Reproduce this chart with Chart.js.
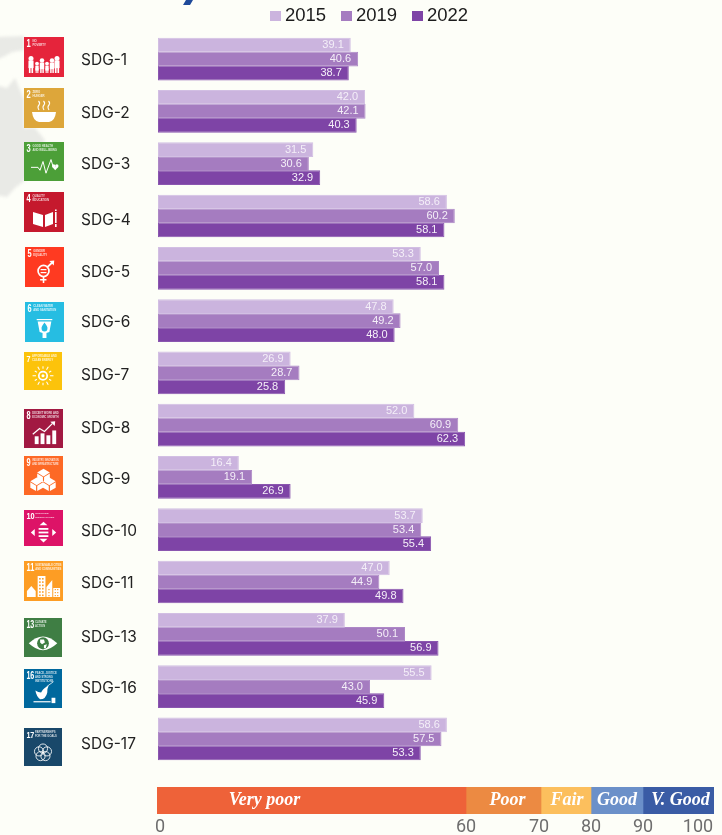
<!DOCTYPE html>
<html><head><meta charset="utf-8">
<style>
html,body{margin:0;padding:0;background:#fdfef8;overflow:hidden;width:722px;height:835px}
canvas{position:absolute;left:0;display:block}
#main{top:0}#band{top:780px}
</style>
<script src="https://cdn.jsdelivr.net/npm/chart.js@4/dist/chart.umd.min.js"></script>
</head><body>
<canvas id="main" width="722" height="780"></canvas>
<canvas id="band" width="722" height="55"></canvas>
<script>
const categories=["SDG-1","SDG-2","SDG-3","SDG-4","SDG-5","SDG-6","SDG-7","SDG-8","SDG-9","SDG-10","SDG-11","SDG-13","SDG-16","SDG-17"];
const goalNumbers=[1,2,3,4,5,6,7,8,9,10,11,13,16,17];
const values2015=[39.1,42.0,31.5,58.6,53.3,47.8,26.9,52.0,16.4,53.7,47.0,37.9,55.5,58.6];
const values2019=[40.6,42.1,30.6,60.2,57.0,49.2,28.7,60.9,19.1,53.4,44.9,50.1,43.0,57.5];
const values2022=[38.7,40.3,32.9,58.1,58.1,48.0,25.8,62.3,26.9,55.4,49.8,56.9,45.9,53.3];
const years=["2015","2019","2022"];
const bandNames=["Very poor","Poor","Fair","Good","V. Good"];
const bandWidths=[309,75,50,52,71];
const bandTickLabels=["0","60","70","80","90","100"];

const yearColors=["#cbb4de","#a57cc0","#7e44a6"];
const yearBorders=["#d2bfe3","#ad88c6","#8a56af"];
const valueColors=["rgba(255,255,255,.78)","rgba(255,255,255,.88)","rgba(255,255,255,.92)"];
const bandColors=["#ee6239","#ec8a42","#fcbf5d","#6b90c9","#3a5ca5"];
const bandLabelShift=[-47,4,1,0,2];
const bandTickAt=[3,309,382,434,486,541];
const iconColors=["#e5243b","#dda63a","#4c9f38","#c5192d","#ff3a21","#26bde2","#fcc30b","#a21942","#fd6925","#dd1367","#fd9d24","#3f7e44","#00689d","#19486a"];
const iconBoxes=[[24,37,40,40],[24,88,40,40],[24,142,40,39],[24,192,40,40],[25,247,39,40],[25,302,39,40],[24,352,38,38],[24,409,39,39],[24,456,39,39],[24,510,39,36],[24,561,39,40],[24,618,38,39],[24,669,38,39],[24,728,38,38]];
const labelCentres=[60,113,164,220,272,322,375,428,479,531,583,637,688,744];
const iconCaptions=[["NO","POVERTY"],["ZERO","HUNGER"],["GOOD HEALTH","AND WELL-BEING"],["QUALITY","EDUCATION"],["GENDER","EQUALITY"],["CLEAN WATER","AND SANITATION"],["AFFORDABLE AND","CLEAN ENERGY"],["DECENT WORK AND","ECONOMIC GROWTH"],["INDUSTRY, INNOVATION","AND INFRASTRUCTURE"],["REDUCED","INEQUALITIES"],["SUSTAINABLE CITIES","AND COMMUNITIES"],["CLIMATE","ACTION"],["PEACE, JUSTICE","AND STRONG","INSTITUTIONS"],["PARTNERSHIPS","FOR THE GOALS"]];

function poly(c,p,fill){c.beginPath();p.forEach((q,i)=>i?c.lineTo(q[0],q[1]):c.moveTo(q[0],q[1]));c.closePath();if(fill!==false)c.fill();}
function circ(c,x,y,r,stroke){c.beginPath();c.arc(x,y,r,0,Math.PI*2);stroke?c.stroke():c.fill();}
function person(c,x,s){circ(c,x,36-s+.6,s*.12+.7);c.fillRect(x-s*.17,36-s+2.6,s*.34,s*.5);c.fillRect(x-s*.14,36-s*.5,s*.11,s*.5);c.fillRect(x+s*.03,36-s*.5,s*.11,s*.5);}
const glyphs={
1(c){[[7,15],[13,10],[18,13],[23,10],[28,13],[33,15]].forEach(p=>person(c,p[0],p[1]));},
2(c){c.beginPath();c.moveTo(8,24);c.lineTo(32,24);c.quadraticCurveTo(31,33,25,34);c.lineTo(15,34);c.quadraticCurveTo(9,33,8,24);c.fill();
 c.lineWidth=1.1;[15,20,25].forEach(x=>{c.beginPath();c.moveTo(x,22);c.quadraticCurveTo(x-2,19,x,17);c.quadraticCurveTo(x+1.5,15,x-.5,13);c.stroke();});},
3(c){c.lineWidth=1;c.beginPath();[[7,26],[14,26],[16,29],[19,20],[22,32],[27,18],[29,25]].forEach((p,i)=>i?c.lineTo(p[0],p[1]):c.moveTo(p[0],p[1]));c.stroke();
 circ(c,29.7,24.5,1.7);circ(c,32.8,24.5,1.7);poly(c,[[28.1,25.3],[34.4,25.3],[31.2,29]]);},
4(c){poly(c,[[9,20],[19,23],[19,35],[9,32]]);poly(c,[[21,23],[29,20],[29,32],[21,35]]);c.fillRect(31,20,1.6,11);c.fillRect(31,17.5,1.6,1.5);c.fillRect(31,32,1.6,3);},
5(c){c.lineWidth=1.7;circ(c,19,24,5.6,true);c.fillRect(16,22,6,1.2);c.fillRect(16,25,6,1.2);c.fillRect(18.2,29,1.6,7);c.fillRect(15.5,32,6.5,1.5);
 c.beginPath();c.moveTo(23,20);c.lineTo(28,15.5);c.stroke();poly(c,[[25,14],[30,13.5],[29.5,18.5]]);},
6(c){c.fillRect(12,17,16,1.2);poly(c,[[13,19.5],[27,19.5],[25,30],[22,31],[22,36],[18,36],[18,31],[15,30]]);c.fillStyle=iconFillNow;c.beginPath();c.moveTo(20,20.5);c.quadraticCurveTo(16.5,25,17,26.5);c.arc(20,26.5,3,Math.PI,0,true);c.quadraticCurveTo(23.5,25,20,20.5);c.fill();c.fillStyle="#fff";},
7(c){c.lineWidth=1.8;circ(c,20,25,4.4,true);circ(c,20,25,1.6);c.lineWidth=1.1;for(let i=0;i<12;i++){const a=i*Math.PI/6,r1=7.4,r2=i%2?10:11;c.beginPath();c.moveTo(20+r1*Math.cos(a),25+r1*Math.sin(a));c.lineTo(20+r2*Math.cos(a),25+r2*Math.sin(a));c.stroke();}},
8(c){[[11,28,4,8],[17,25,4,11],[23,27,4,9],[29,22,4,14]].forEach(r=>c.fillRect(r[0],r[1],r[2],r[3]));c.lineWidth=1.3;c.beginPath();[[9,26],[16,20],[21,23],[29,15]].forEach((p,i)=>i?c.lineTo(p[0],p[1]):c.moveTo(p[0],p[1]));c.stroke();poly(c,[[27,13],[32,12.5],[31.5,17.5]]);},
9(c){[[20,17],[13,26],[26,26]].forEach(p=>{const x=p[0],y=p[1],s=6.5;c.fillStyle="#fff";poly(c,[[x,y-4],[x+s,y],[x,y+4],[x-s,y]]);poly(c,[[x-s,y+1],[x-.6,y+4.6],[x-.6,y+10],[x-s,y+6.5]]);poly(c,[[x+s,y+1],[x+.6,y+4.6],[x+.6,y+10],[x+s,y+6.5]]);});},
10(c){[[15,20,10],[15,24,10],[15,28,10]].forEach(r=>c.fillRect(r[0],r[1],r[2],2));poly(c,[[20,13],[16,17],[24,17]]);poly(c,[[20,36],[16,32],[24,32]]);poly(c,[[7,25],[11,21],[11,29]]);poly(c,[[33,25],[29,21],[29,29]]);},
11(c){c.fillRect(14,15,8,21);poly(c,[[23,36],[23,26],[29,19],[29,36]]);c.fillRect(30,27,7,9);poly(c,[[3,30],[7.5,25],[12,30],[12,36],[3,36]]);c.fillStyle=iconFillNow;for(let y=17;y<34;y+=3.3)[15.5,18.5].forEach(x=>c.fillRect(x,y,1.6,1.6));for(let y=28;y<35;y+=3)[25,31.5,34].forEach(x=>c.fillRect(x,y,1.2,1.2));c.fillStyle="#fff";},
13(c){c.beginPath();c.moveTo(5,26);c.quadraticCurveTo(20,12,35,26);c.quadraticCurveTo(20,40,5,26);c.fill();c.fillStyle=iconFillNow;circ(c,20,26,6.2);c.fillStyle="#fff";poly(c,[[17,22],[21,22],[22,25],[19,27],[17,25]]);poly(c,[[21,28],[24,27],[23,31],[21,31]]);},
16(c){c.beginPath();c.moveTo(12,22);c.quadraticCurveTo(15,24,18,24);c.quadraticCurveTo(21,19,26,17);c.quadraticCurveTo(24,21,24.5,24);c.quadraticCurveTo(23,31,17,31);c.quadraticCurveTo(13,28,12,22);c.fill();
 c.lineWidth=.8;c.beginPath();c.moveTo(24,18);c.lineTo(31,13);c.stroke();c.fillRect(10,33,18,1.2);c.fillRect(29,29.5,4,5.5);},
17(c){c.lineWidth=.9;for(let i=0;i<5;i++){const a=-Math.PI/2+i*2*Math.PI/5;circ(c,20+4.4*Math.cos(a),26+4.4*Math.sin(a),4.8,true);}}
};
let iconFillNow="#000";
function drawIcon(c,i){
 const b=iconBoxes[i],n=goalNumbers[i],k=b[2]/40;
 c.save();c.fillStyle=iconColors[i];c.fillRect(b[0],b[1],b[2],b[3]);
 c.filter="blur(0.4px)";
 c.translate(b[0],b[1]);c.scale(k,b[3]/40);
 iconFillNow=iconColors[i];c.fillStyle="#fff";c.strokeStyle="#fff";c.textBaseline="top";c.textAlign="left";
 c.font='bold 10.5px "Liberation Sans"';
 c.save();c.translate(2.5,2.2);c.scale(.72,1);c.fillText(String(n),0,0);c.restore();
 c.font='bold 2.8px "Liberation Sans"';
 c.globalAlpha=.8;
 const tx=n>=10?11.5:8.5;iconCaptions[i].forEach((t,j)=>c.fillText(t,tx,2.8+j*4.3,27));
 c.globalAlpha=1;
 glyphs[n](c);c.restore();
}
const decorPlugin={id:"decor",beforeDatasetsDraw(chart){
 const c=chart.ctx;c.save();
 c.filter="blur(1.5px)";c.fillStyle="#e9eae6";
 poly(c,[[-4,37],[24,36],[24,50],[12,52],[5,56],[-4,60]]);
 poly(c,[[-4,85],[7,88],[15,78],[20,90],[24,100],[24,128],[35,128],[45,140],[38,150],[24,181],[15,188],[7,197],[-4,195]]);
 c.filter="none";
 c.fillStyle="#1f4a9a";poly(c,[[186,0],[193,0],[190,5],[183,5]]);
 categories.forEach((_,i)=>drawIcon(c,i));
 c.fillStyle="#222";c.font='15.5px Inter';c.textAlign="left";c.textBaseline="middle";
 categories.forEach((t,i)=>c.fillText(t,81,labelCentres[i]));
 const lx=[270,341,412];
 years.forEach((y,i)=>{c.fillStyle=yearColors[i];c.fillRect(lx[i],11,11,10);
  c.fillStyle="#1c1c1c";c.font='18.5px "Liberation Sans"';c.textBaseline="middle";c.fillText(y,lx[i]+15,16);});
 c.restore();
},afterDatasetsDraw(chart){
 const c=chart.ctx;c.save();c.font='11px "Liberation Sans"';c.textAlign="right";c.textBaseline="middle";
 chart.data.datasets.forEach((d,di)=>{c.fillStyle=valueColors[di];
  chart.getDatasetMeta(di).data.forEach((bar,i)=>c.fillText(d.data[i].toFixed(1),bar.x-7,bar.y));});
 c.restore();
}};
new Chart(document.getElementById("main"),{
 type:"bar",
 data:{labels:categories,datasets:[values2015,values2019,values2022].map((v,i)=>({label:years[i],data:v,backgroundColor:yearColors[i],borderColor:yearBorders[i],borderWidth:1,borderSkipped:false,categoryPercentage:.804,barPercentage:1.05}))},
 options:{indexAxis:"y",responsive:false,animation:false,
  layout:{padding:{left:158,right:71,top:33,bottom:15}},
  scales:{x:{display:false,min:0,max:100},y:{display:false}},
  plugins:{legend:{display:false},tooltip:{enabled:false}}},
 plugins:[decorPlugin]
});
const bandLabelPlugin={id:"bandLabels",afterDatasetsDraw(chart){
 const c=chart.ctx;c.save();c.font='italic bold 18px "Liberation Serif"';c.fillStyle="#fff";c.textAlign="center";c.textBaseline="middle";
 chart.data.datasets.forEach((d,i)=>{const bar=chart.getDatasetMeta(i).data[0];c.fillText(bandNames[i],(bar.x+bar.base)/2+bandLabelShift[i],bar.y);});
 c.restore();
}};
new Chart(document.getElementById("band"),{
 type:"bar",
 data:{labels:["scale"],datasets:bandNames.map((n,i)=>({label:n,data:[bandWidths[i]],backgroundColor:bandColors[i],borderWidth:0,categoryPercentage:1,barPercentage:1}))},
 options:{indexAxis:"y",responsive:false,animation:false,
  layout:{padding:{left:157,right:8,top:7,bottom:0}},
  scales:{
   x:{stacked:true,min:0,max:557,grid:{display:false,drawTicks:false},border:{display:false},
    afterBuildTicks(s){s.ticks=bandTickAt.map(v=>({value:v}));},
    afterFit(s){s.height=21;},
    ticks:{autoSkip:false,maxRotation:0,padding:3,color:"#6e6e6e",font:{family:"Roboto",size:18},
     callback(v,i){return bandTickLabels[i];}}},
   y:{stacked:true,display:false}},
  plugins:{legend:{display:false},tooltip:{enabled:false}}},
 plugins:[bandLabelPlugin]
});
</script>
</body></html>
